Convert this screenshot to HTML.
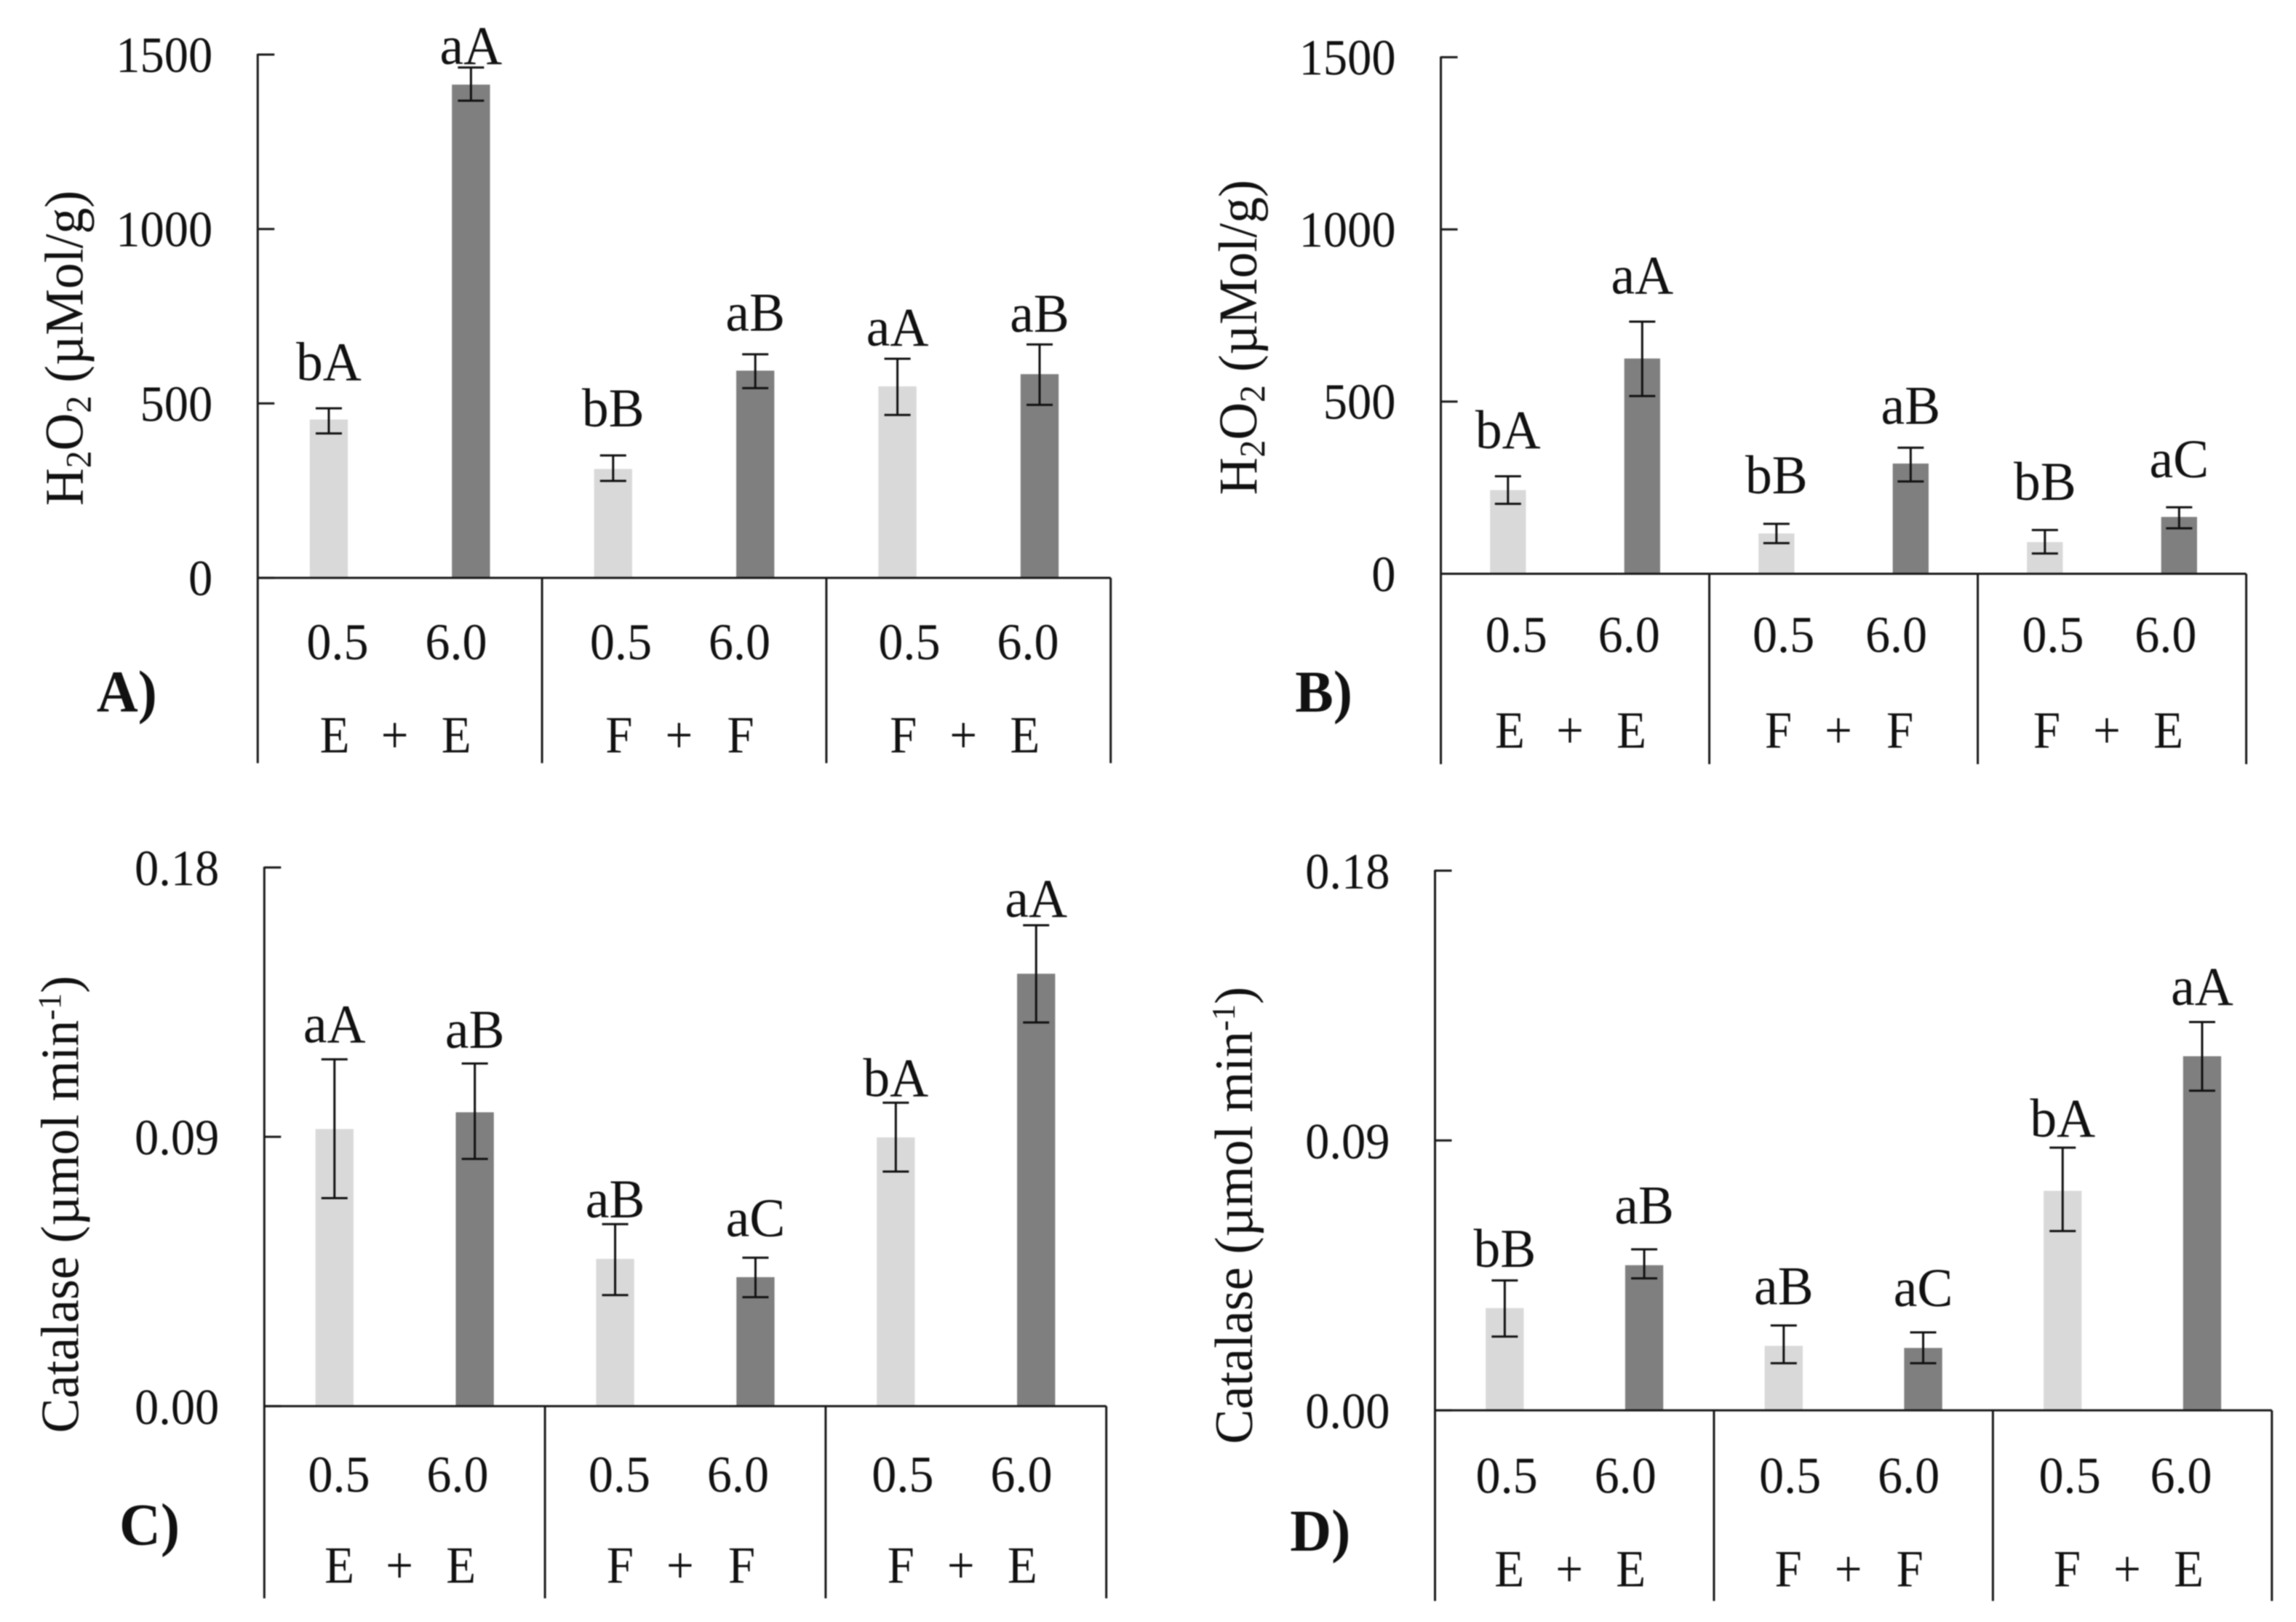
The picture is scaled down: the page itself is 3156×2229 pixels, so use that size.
<!DOCTYPE html>
<html lang="en">
<head>
<meta charset="utf-8">
<title>H2O2 and Catalase bar charts</title>
<style>
html,body{margin:0;padding:0;background:#fff;width:3156px;height:2229px;overflow:hidden}
svg{display:block;filter:blur(0.7px)}
text{font-family:"Liberation Serif",serif;fill:#111}
</style>
</head>
<body>
<svg id="figure" xmlns="http://www.w3.org/2000/svg" width="3156" height="2229" viewBox="0 0 3156 2229"></svg>
<script>
// ---- data ----
const h2o2Ticks = [0, 500, 1000, 1500];
const h2o2TickLabels = ['0', '500', '1000', '1500'];
const catalaseTicks = [0, 0.09, 0.18];
const catalaseTickLabels = ['0.00', '0.09', '0.18'];
const doseLabels = ['0.5', '6.0', '0.5', '6.0', '0.5', '6.0'];
const groupLabels = [['E', '+', 'E'], ['F', '+', 'F'], ['F', '+', 'E']];

const aValues = [454, 1414, 312, 594, 549, 584];
const aUpper = [486, 1463, 351, 641, 628, 669];
const aLower = [414, 1368, 278, 544, 467, 496];
const aLetters = ['bA', 'aA', 'bB', 'aB', 'aA', 'aB'];

const bValues = [243, 625, 117, 320, 92, 165];
const bUpper = [283, 732, 145, 366, 127, 193];
const bLower = [203, 516, 89, 268, 59, 132];
const bLetters = ['bA', 'aA', 'bB', 'aB', 'bB', 'aC'];

const cValues = [0.0926, 0.0982, 0.0492, 0.0431, 0.0898, 0.1445];
const cUpper = [0.1159, 0.1145, 0.0608, 0.0496, 0.1014, 0.1607];
const cLower = [0.0695, 0.0826, 0.0371, 0.0364, 0.0784, 0.1282];
const cLetters = ['aA', 'aB', 'aB', 'aC', 'bA', 'aA'];

const dValues = [0.0341, 0.0484, 0.0215, 0.0208, 0.0732, 0.1181];
const dUpper = [0.0433, 0.0537, 0.0283, 0.0260, 0.0876, 0.1295];
const dLower = [0.0246, 0.0440, 0.0157, 0.0157, 0.0598, 0.1066];
const dLetters = ['bB', 'aB', 'aB', 'aC', 'bA', 'aA'];

// ---- layout ----
const H2O2_TITLE = 'H<tspan dy="11" font-size="50">2</tspan><tspan dy="-11">O</tspan><tspan dy="11" font-size="50">2</tspan><tspan dy="-11"> (µMol/g)</tspan>';
const CAT_TITLE = 'Catalase (µmol min<tspan dy="-24" font-size="46">-1</tspan><tspan dy="24">)</tspan>';
const LIGHT = '#d9d9d9';
const DARK = '#7f7f7f';
const INK = '#1a1a1a';
const SX = 1.0064;
const panels = [
  {id:'a', ox:0, oy:0, sy:0.7015, left:352, right:1517, top:107, zero:1132, bottom:1495, max:1500, barW:52,
   values:aValues, upper:aUpper, lower:aLower, letters:aLetters, ticks:h2o2Ticks, tickLabels:h2o2TickLabels,
   gaps:[55,7,57,46,26,25], doseX:[461,623,848,1010,1242,1404], doseY:1290, groupY:1474,
   title:H2O2_TITLE, titleX:113, titleY:682, titleSize:75, titleStretch:0.955, tag:'A)', tagX:132, tagY:1394},
  {id:'b', ox:1578, oy:0, sy:0.7015, left:400, right:1500, top:112, zero:1124, bottom:1497, max:1500, barW:49,
   values:bValues, upper:bUpper, lower:bLower, letters:bLetters, ticks:h2o2Ticks, tickLabels:h2o2TickLabels,
   gaps:[55,55,60,47,59,59], doseX:[503,657,868,1022,1236,1390], doseY:1276, groupY:1465,
   title:H2O2_TITLE, titleX:148, titleY:661, titleSize:75, titleStretch:0.955, tag:'B)', tagX:201, tagY:1394},
  {id:'c', ox:0, oy:1100, sy:0.72, left:361, right:1511, top:128, zero:1156, bottom:1523, max:0.18, barW:52,
   values:cValues, upper:cUpper, lower:cLower, letters:cLetters, ticks:catalaseTicks, tickLabels:catalaseTickLabels,
   gaps:[32,30,13,41,12,16], doseX:[463,625,846,1008,1233,1395], doseY:1318, groupY:1493,
   title:CAT_TITLE, titleX:107, titleY:771, titleSize:74, titleStretch:0.97, tag:'C)', tagX:163, tagY:1420},
  {id:'d', ox:1578, oy:1100, sy:0.72, left:392, right:1535, top:134, zero:1164, bottom:1528, max:0.18, barW:52,
   values:dValues, upper:dUpper, lower:dLower, letters:dLetters, ticks:catalaseTicks, tickLabels:catalaseTickLabels,
   gaps:[26,49,40,50,21,33], doseX:[490,652,877,1039,1259,1411], doseY:1320, groupY:1500,
   title:CAT_TITLE, titleX:142, titleY:792, titleSize:74, titleStretch:0.97, tag:'D)', tagX:194, tagY:1432}
];
const GROUP_OFFSETS = [-89, -7, 77];
const NS = 'http://www.w3.org/2000/svg';
const root = document.getElementById('figure');

function make(tag, attrs, parent) {
  const node = document.createElementNS(NS, tag);
  for (const k in attrs) node.setAttribute(k, attrs[k]);
  parent.appendChild(node);
  return node;
}
function makeText(parent, str, x, y, size, sx, anchor, weight) {
  const node = make('text', {
    transform: 'translate(' + x + ',' + y + ') scale(' + sx + ',1)',
    'font-size': size,
    'text-anchor': anchor,
    'font-weight': weight || 'normal'
  }, parent);
  node.textContent = str;
  return node;
}
function makeLine(parent, x1, y1, x2, y2, width, color) {
  return make('line', {x1: x1, y1: y1, x2: x2, y2: y2, stroke: color || INK, 'stroke-width': width || 3}, parent);
}

panels.forEach(function (p) {
  const g = make('g', {transform: 'translate(' + p.ox + ',' + p.oy + ')'}, root);
  
  

  const px = function (x) { return x * SX; };
  const py = function (y) { return y * p.sy; };
  const top = py(p.top);
  const zero = py(p.zero);
  const bottom = py(p.bottom);
  const left = px(p.left);
  const right = px(p.right);
  const barW = px(p.barW);

  const yScale = function (v) { return zero - (v / p.max) * (zero - top); };
  const band = (right - left) / p.values.length;
  const xScale = function (i) { return left + band * (i + 0.5); };

  // bars
  p.values.forEach(function (v, i) {
    const bar = make('rect', {
      x: xScale(i) - barW / 2,
      y: yScale(v),
      width: barW,
      height: yScale(0) - yScale(v),
      fill: i % 2 === 0 ? LIGHT : DARK
    }, g);
    
    
  });

  // error bars
  p.values.forEach(function (v, i) {
    const cx = xScale(i);
    const hi = yScale(p.upper[i]);
    const lo = yScale(p.lower[i]);
    const eb = make('g', {}, g);
    
    
    makeLine(eb, cx, hi, cx, lo, 3, '#111');
    makeLine(eb, cx - 18, hi, cx + 18, hi, 3, '#111');
    makeLine(eb, cx - 18, lo, cx + 18, lo, 3, '#111');
  });

  // significance letters
  p.letters.forEach(function (s, i) {
    const t = makeText(g, s, xScale(i), yScale(p.upper[i]) - py(p.gaps[i]), 75, 0.98, 'middle');
    
    
  });

  // y axis
  const yAxis = makeLine(g, left, top - 1, left, bottom, 3);
  
  
  const xAxis = makeLine(g, left, zero, right, zero, 3);
  
  

  p.ticks.forEach(function (v, i) {
    const y = yScale(v);
    const tick = makeLine(g, left, y, left + 23, y, 3);
    
    
    const label = makeText(g, p.tickLabels[i], left - 62, y + py(34), 70, 0.95, 'end');
    
    
  });

  // category dividers and labels
  const groupW = (right - left) / groupLabels.length;
  for (let k = 1; k <= groupLabels.length; k++) {
    const xd = left + groupW * k;
    const divider = makeLine(g, xd, zero, xd, bottom, 3);
    
    
  }
  doseLabels.forEach(function (s, i) {
    const t = makeText(g, s, px(p.doseX[i]), py(p.doseY) + 1, 71, 0.96, 'middle');
    
    
  });
  groupLabels.forEach(function (parts, k) {
    const cx = left + groupW * (k + 0.5);
    const row = make('g', {}, g);
    
    
    parts.forEach(function (s, j) {
      makeText(row, s, cx + px(GROUP_OFFSETS[j]), py(p.groupY), 72, 0.93, 'middle');
    });
  });

  // y axis title
  const title = make('text', {
    transform: 'translate(' + px(p.titleX) + ',' + py(p.titleY) + ') rotate(-90) scale(' + p.titleStretch + ',1)',
    'font-size': p.titleSize,
    'text-anchor': 'middle'
  }, g);
  title.innerHTML = p.title;
  
  

  // panel tag
  const tag = makeText(g, p.tag, px(p.tagX), py(p.tagY), 82, 0.96, 'start', 'bold');
  
  
});
</script>
</body>
</html>
